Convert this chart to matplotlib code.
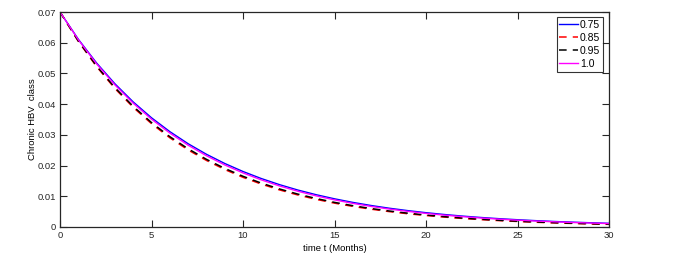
import matplotlib
matplotlib.use("Agg")
import matplotlib.pyplot as plt

plt.rcParams['font.family'] = ['Liberation Sans', 'DejaVu Sans']

t = list(range(0, 31))
s075 = [0.07000, 0.06113, 0.05339, 0.04663, 0.04072, 0.03556, 0.03106, 0.02712, 0.02369, 0.02069,
        0.01807, 0.01578, 0.01378, 0.01203, 0.01051, 0.00918, 0.00801, 0.00700, 0.00611, 0.00534,
        0.00466, 0.00407, 0.00355, 0.00310, 0.00271, 0.00237, 0.00207, 0.00180, 0.00158, 0.00138, 0.00120]
s085 = [0.07000, 0.06046, 0.05222, 0.04510, 0.03896, 0.03365, 0.02906, 0.02510, 0.02168, 0.01873,
        0.01617, 0.01397, 0.01207, 0.01042, 0.00900, 0.00777, 0.00671, 0.00580, 0.00501, 0.00432,
        0.00374, 0.00323, 0.00279, 0.00241, 0.00208, 0.00180, 0.00155, 0.00134, 0.00116, 0.00100, 0.00086]
s095 = [0.07000, 0.06058, 0.05244, 0.04538, 0.03928, 0.03400, 0.02942, 0.02547, 0.02204, 0.01908,
        0.01651, 0.01429, 0.01237, 0.01071, 0.00927, 0.00802, 0.00694, 0.00601, 0.00520, 0.00450,
        0.00390, 0.00337, 0.00292, 0.00253, 0.00219, 0.00189, 0.00164, 0.00142, 0.00123, 0.00106, 0.00092]
s100 = [0.07000, 0.06098, 0.05312, 0.04627, 0.04031, 0.03511, 0.03059, 0.02664, 0.02321, 0.02022,
        0.01761, 0.01534, 0.01336, 0.01164, 0.01014, 0.00883, 0.00769, 0.00670, 0.00584, 0.00509,
        0.00443, 0.00386, 0.00336, 0.00293, 0.00255, 0.00222, 0.00194, 0.00169, 0.00147, 0.00128, 0.00111]

labels = ['0.75', '0.85', '0.95', '1.0']
xticks = [0, 5, 10, 15, 20, 25, 30]
yticks = [0, 0.01, 0.02, 0.03, 0.04, 0.05, 0.06, 0.07]
yticklabels = ['0', '0.01', '0.02', '0.03', '0.04', '0.05', '0.06', '0.07']

fig = plt.figure(figsize=(6.74, 2.63), dpi=100)
ax = fig.add_axes([60/674, 1-227/263, 549/674, 215/263])

ax.plot(t, s075, color='#0000ff', lw=1.0, label=labels[0])
ax.plot(t, s085, color='#ff0000', lw=1.1, ls=(0, (5, 4)), label=labels[1])
ax.plot(t, s095, color='#000000', lw=1.1, ls=(0, (5, 4)), label=labels[2])
ax.plot(t, s100, color='#ff00ff', lw=1.0, label=labels[3])

ax.set_xlim(0, 30)
ax.set_ylim(0, 0.07)
ax.set_xticks(xticks)
ax.set_xticklabels([str(v) for v in xticks])
ax.set_yticks(yticks)
ax.set_yticklabels(yticklabels)
ax.tick_params(direction='in', length=5, width=0.8, labelsize=6.8, top=True, right=True,
               colors='#262626', pad=3)
for sp in ax.spines.values():
    sp.set_linewidth(0.9)
    sp.set_color('#262626')

ax.set_xlabel('time t (Months)', fontsize=6.8, labelpad=3)
ax.set_ylabel('Chronic HBV  class', fontsize=6.8, labelpad=0)

leg = ax.legend(loc='upper right', bbox_to_anchor=(0.989, 0.977), borderaxespad=0,
                fontsize=7.5, frameon=True, fancybox=False, handlelength=1.8,
                handletextpad=0.2, labelspacing=0.3, borderpad=0.25)
leg.get_frame().set_edgecolor('black')
leg.get_frame().set_linewidth(0.8)

fig.savefig('out.png', dpi=100)
